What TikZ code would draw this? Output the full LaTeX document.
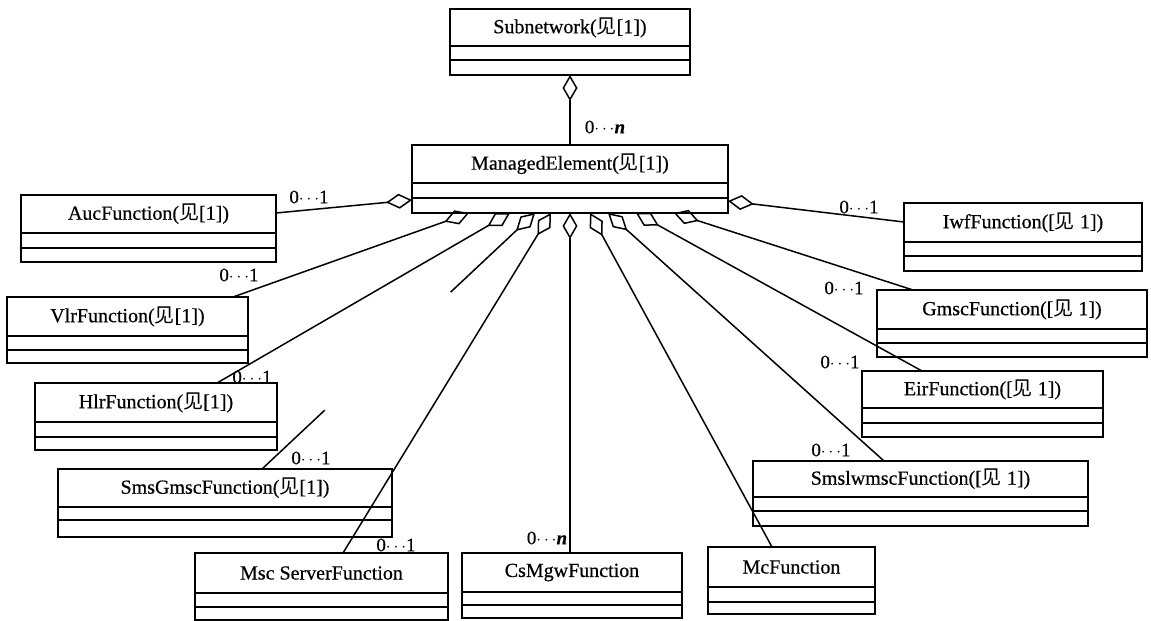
\documentclass[tikz,border=0pt]{standalone}
\usepackage{fontspec}
\setmainfont{Liberation Serif}[FakeBold=0.5]
\newfontfamily\cjk{Noto Sans CJK SC}
\usetikzlibrary{arrows.meta,calc}

% UML class box: name, left, top, right, bottom, first and second compartment lines, title
\newcommand{\umlclass}[8]{%
  \node[classbox, minimum width={(#4)-(#2)}, minimum height={(#5)-(#3)}] (#1) at (#2,#3) {};
  \node[classname] (#1-name) at ({((#2)+(#4))/2},{((#3)+(#6))/2}) {#8};
  \draw[compart] (#1.west |- 0,#6) -- (#1.east |- 0,#6);
  \draw[compart] (#1.west |- 0,#7) -- (#1.east |- 0,#7);
}
\newcommand{\jian}{{\cjk 见}}

\begin{document}
\begin{tikzpicture}[x=1pt,y=-1pt,
  classbox/.style={draw, line width=1.8pt, inner sep=0pt, outer sep=0pt, anchor=north west},
  classname/.style={font=\fontsize{20}{24}\selectfont, inner sep=0pt},
  compart/.style={line width=1.8pt},
  mult/.style={font=\fontsize{19}{22}\selectfont, inner sep=0pt},
  assoc/.style={line width=1.5pt},
  agg/.style={assoc, {Diamond[open,length=26pt,width=15pt]}-}]
\useasboundingbox (0,0) rectangle (1151,621);

% classes
\umlclass{sub}{450}{9}{690}{75}{46}{60}{Subnetwork(\jian[1])}
\umlclass{me}{412}{145}{728}{213}{183}{198}{ManagedElement(\jian[1])}
\umlclass{auc}{21}{195}{276}{262}{233}{248}{AucFunction(\jian[1])}
\umlclass{vlr}{7}{297}{248}{363}{336}{350}{VlrFunction(\jian[1])}
\umlclass{hlr}{35}{383}{277}{450}{422}{437}{HlrFunction(\jian[1])}
\umlclass{sms}{58}{469}{392}{537}{507}{520}{SmsGmscFunction(\jian[1])}
\umlclass{msc}{195}{553}{448}{620}{593}{607}{Msc ServerFunction}
\umlclass{csm}{462}{553}{682}{618}{592}{605}{CsMgwFunction}
\umlclass{mc}{708}{547}{875}{614}{587}{602}{McFunction}
\umlclass{smi}{753}{461}{1088}{526}{497}{511}{SmslwmscFunction([\jian\ 1])}
\umlclass{eir}{862}{371}{1103}{437}{408}{423}{EirFunction([\jian\ 1])}
\umlclass{gmsc}{877}{290}{1147}{357}{329}{343}{GmscFunction([\jian\ 1])}
\umlclass{iwf}{904}{203}{1142}{271}{242}{256}{IwfFunction([\jian\ 1])}

% aggregation connectors
\draw[agg] (sub.south) -- (me.north);
\draw[agg] (me.west |- 0,200) -- (auc.east |- 0,213);
\draw[agg] (me.east |- 0,201) -- (iwf.west |- 0,222);
\draw[agg] (me.south -| 469,0) -- (vlr.north -| 233,0);
\draw[agg] (me.south -| 510,0) -- (hlr.north -| 217,0);
\coordinate (smstip) at (me.south -| 535,0);
\coordinate (smsend) at (sms.north -| 262,0);
\draw[agg] (smstip) -- ($(smstip)!0.309!(smsend)$);
\draw[assoc] ($(smstip)!0.77!(smsend)$) -- (smsend);
\draw[agg] (me.south -| 551,0) -- (msc.north -| 343,0);
\draw[agg] (me.south) -- (csm.north -| 570,0);
\draw[agg] (me.south -| 590,0) -- (mc.north -| 772,0);
\draw[agg] (me.south -| 608,0) -- (smi.north -| 884,0);
\draw[agg] (me.south -| 636,0) -- (eir.north -| 922,0);
\draw[agg] (me.south -| 674,0) -- (gmsc.north -| 913,0);

% multiplicities
\node[mult] (m-sub) at (605,127) {0$\cdots$\textit{\textbf{n}}};
\node[mult] (m-auc) at (309,197) {0$\cdots$1};
\node[mult] (m-vlr) at (239,275) {0$\cdots$1};
\node[mult] (m-hlr) at (252,377) {0$\cdots$1};
\node[mult] (m-sms) at (311,458) {0$\cdots$1};
\node[mult] (m-msc) at (396,545) {0$\cdots$1};
\node[mult] (m-csm) at (547,538) {0$\cdots$\textit{\textbf{n}}};
\node[mult] (m-iwf) at (859,207) {0$\cdots$1};
\node[mult] (m-gmsc) at (844,288) {0$\cdots$1};
\node[mult] (m-eir) at (840,362) {0$\cdots$1};
\node[mult] (m-smi) at (831,450) {0$\cdots$1};
\end{tikzpicture}
\end{document}
